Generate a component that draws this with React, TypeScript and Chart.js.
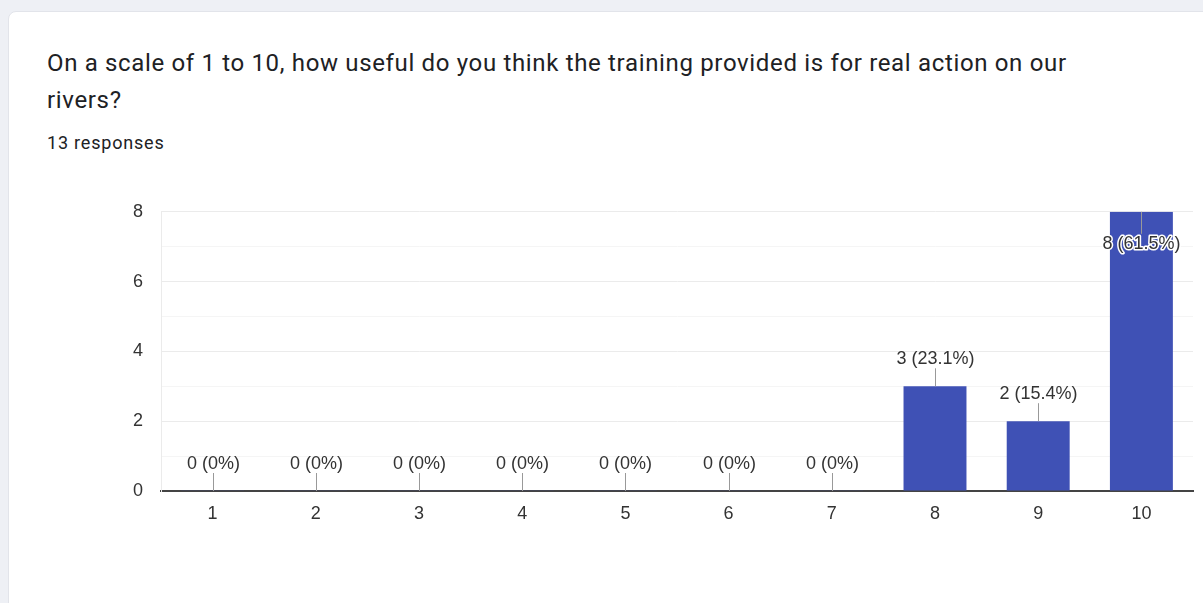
import React, { useEffect, useRef } from "react";
import { Chart, registerables } from "chart.js";

Chart.register(...registerables);

const categories = ["1", "2", "3", "4", "5", "6", "7", "8", "9", "10"];
const counts = [0, 0, 0, 0, 0, 0, 0, 3, 2, 8];
const yTicks = [0, 2, 4, 6, 8];
const titleLine1 = "On a scale of 1 to 10, how useful do you think the training provided is for real action on our";
const titleLine2 = "rivers?";
const responsesText = "13 responses";

const BAR = "#3f51b5";
const FONT = "'Liberation Sans', Arial, sans-serif";

const labelPlugin = {
  id: "barLabels",
  afterDatasetsDraw(chart: any) {
    const ctx = chart.ctx;
    const meta = chart.getDatasetMeta(0);
    const data = chart.data.datasets[0].data as number[];
    const total = data.reduce((a: number, b: number) => a + b, 0);
    const area = chart.chartArea;
    ctx.save();
    ctx.font = `18px ${FONT}`;
    ctx.textAlign = "center";
    meta.data.forEach((el: any, i: number) => {
      const v = data[i];
      const pct = total ? Math.round((v / total) * 1000) / 10 : 0;
      const text = `${v} (${pct}%)`;
      const x = Math.round(el.x) + 0.5;
      const top = chart.scales.y.getPixelForValue(v);
      const lineLen = 18;
      const textH = 17;
      let lineStart = top;
      let lineEnd = top - lineLen;
      let baseline = lineEnd - 4;
      let halo = false;
      if (lineEnd - textH - 4 < area.top) {
        lineEnd = top + 22;
        baseline = lineEnd + 15;
        halo = true;
      }
      ctx.strokeStyle = "#999";
      ctx.lineWidth = 1;
      ctx.beginPath();
      ctx.moveTo(x, lineStart);
      ctx.lineTo(x, lineEnd);
      ctx.stroke();
      if (halo) {
        ctx.lineWidth = 3;
        ctx.strokeStyle = "#ffffff";
        ctx.lineJoin = "round";
        ctx.strokeText(text, x, baseline);
      }
      ctx.fillStyle = "#333";
      ctx.fillText(text, x, baseline);
    });
    ctx.restore();
  },
};

function BarChart() {
  const ref = useRef<HTMLCanvasElement | null>(null);
  useEffect(() => {
    if (!ref.current) return;
    const chart = new Chart(ref.current, {
      type: "bar",
      data: {
        labels: categories,
        datasets: [
          {
            data: counts,
            backgroundColor: (c: any) => (c.raw === 0 ? "rgba(63,81,181,0.25)" : BAR),
            borderWidth: 0,
            minBarLength: 1,
            barPercentage: 0.61,
            categoryPercentage: 1,
          },
        ],
      },
      options: {
        animation: false,
        responsive: false,
        maintainAspectRatio: false,
        layout: { padding: { top: 16, right: 10, left: 0, bottom: 0 } },
        plugins: { legend: { display: false }, tooltip: { enabled: false } },
        scales: {
          x: {
            grid: { display: false, drawTicks: false },
            border: { display: true, color: "#444", width: 2 },
            ticks: {
              color: "#333",
              font: { family: FONT, size: 18 },
              padding: 12,
            },
            afterFit: (s: any) => {
              s.height = 49;
            },
          },
          y: {
            min: 0,
            max: 8,
            ticks: {
              stepSize: 1,
              color: "#333",
              font: { family: FONT, size: 18 },
              padding: 18,
              callback: (v: any) => (yTicks.includes(Number(v)) ? String(v) : ""),
            },
            grid: {
              drawTicks: false,
              color: (c: any) => (c.tick && c.tick.value % 2 === 0 ? "#ebebeb" : "#f5f5f5"),
            },
            border: { display: true, color: "#ebebeb", width: 1 },
            afterFit: (s: any) => {
              s.width = 161;
            },
          },
        },
      },
      plugins: [labelPlugin],
    });
    return () => chart.destroy();
  }, []);
  return (
    <canvas
      ref={ref}
      width={1203}
      height={357}
      style={{ position: "absolute", left: 0, top: 183, width: 1203, height: 357 }}
    />
  );
}

export default function App() {
  return (
    <div
      style={{
        position: "fixed",
        left: 0,
        top: 0,
        width: 1203,
        height: 603,
        background: "#eef0f5",
        overflow: "hidden",
      }}
    >
      <div
        style={{
          position: "absolute",
          left: 8,
          top: 11,
          width: 1240,
          height: 640,
          background: "#ffffff",
          border: "1px solid #e2e4ea",
          borderRadius: 8,
          boxSizing: "border-box",
        }}
      />
      <div
        style={{
          position: "absolute",
          left: 47,
          top: 45,
          fontFamily: "Roboto, 'Open Sans', sans-serif",
          fontSize: 24,
          letterSpacing: "0.66px",
          lineHeight: "37px",
          color: "#202124",
          whiteSpace: "nowrap",
        }}
      >
        {titleLine1}
        <br />
        {titleLine2}
      </div>
      <div
        style={{
          position: "absolute",
          left: 47,
          top: 130,
          fontFamily: "Roboto, sans-serif",
          fontSize: 18,
          letterSpacing: "0.8px",
          lineHeight: "26px",
          color: "#202124",
          whiteSpace: "nowrap",
        }}
      >
        {responsesText}
      </div>
      <BarChart />
    </div>
  );
}
